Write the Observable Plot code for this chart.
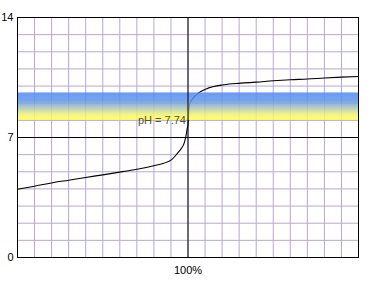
<!DOCTYPE html>
<html>
<head>
<meta charset="utf-8">
<script src="https://cdn.jsdelivr.net/npm/d3@7"></script>
<script src="https://cdn.jsdelivr.net/npm/@observablehq/plot@0.6"></script>
<style>
  html, body { margin: 0; padding: 0; background: #fff; }
  svg { display: block; }
</style>
</head>
<body>
<div id="chart"></div>
<script>
// Titration curve: % of equivalence vs pH
const titrant = [0,10,20,30,40,50,60,70,80,90,94,96,98,99,99.5,100,100.3,100.6,101.2,103,106,111,121,131,140,150,160,170,180,190,200];
const pHvals  = [3.98,4.16,4.35,4.51,4.67,4.82,4.98,5.15,5.35,5.68,6.1,6.35,6.75,7.2,7.5,7.74,8.15,8.6,9.0,9.3,9.59,9.85,10.08,10.17,10.23,10.31,10.37,10.41,10.47,10.52,10.56];
const yTicks = [0, 7, 14];
const xTicks = [100];
const xTickLabels = ["100%"];
const indicatorLow = 8.0;
const indicatorHigh = 9.6;
const labelText = "pH = 7.74";

const curve = titrant.map((x, i) => ({x, y: pHvals[i]}));

const chart = Plot.plot({
  width: 368,
  height: 284,
  marginLeft: 17,
  marginRight: 10,
  marginTop: 17,
  marginBottom: 27,
  style: {fontFamily: "'Liberation Sans', Arial, sans-serif", fontSize: "11px", color: "#000", background: "#fff"},
  x: {domain: [0, 200], label: null},
  y: {domain: [0, 14], label: null},
  marks: [
    Plot.gridX(d3.range(0, 201, 10), {stroke: "#b9a6d4", strokeOpacity: 1}),
    Plot.gridY(d3.range(0, 15, 1), {stroke: "#b9a6d4", strokeOpacity: 1}),
    Plot.line(curve, {x: "x", y: "y", stroke: "#000", strokeWidth: 1.1, curve: "monotone-x"}),
    Plot.rect([{}], {x1: 0, x2: 200, y1: indicatorLow, y2: indicatorHigh, fill: "url(#thymol)", fillOpacity: 0.85}),
    Plot.text([labelText], {x: 100, y: indicatorLow, text: d => d, textAnchor: "end", lineAnchor: "bottom", dx: -2, dy: 4, fill: "#55553a", fontSize: 11}),
    Plot.ruleY([7], {stroke: "#000"}),
    Plot.ruleX([100], {stroke: "#000"}),
    Plot.axisY(yTicks, {tickSize: 0, tickPadding: 4, fontSize: 11, label: null}),
    Plot.axisX(xTicks, {tickSize: 0, tickPadding: 9, tickFormat: (d, i) => xTickLabels[i], fontSize: 11, label: null}),
    Plot.frame({stroke: "#000"})
  ]
});

d3.select(chart).insert("defs", ":first-child").html(`
  <linearGradient id="thymol" x1="0" y1="0" x2="0" y2="1">
    <stop offset="0" stop-color="rgb(80,138,242)"/>
    <stop offset="0.3" stop-color="rgb(95,148,235)"/>
    <stop offset="0.55" stop-color="rgb(165,195,190)"/>
    <stop offset="0.78" stop-color="rgb(235,238,120)"/>
    <stop offset="0.92" stop-color="rgb(250,250,100)"/>
    <stop offset="1" stop-color="rgb(255,255,40)"/>
  </linearGradient>`);

document.getElementById("chart").appendChild(chart);
</script>
</body>
</html>
